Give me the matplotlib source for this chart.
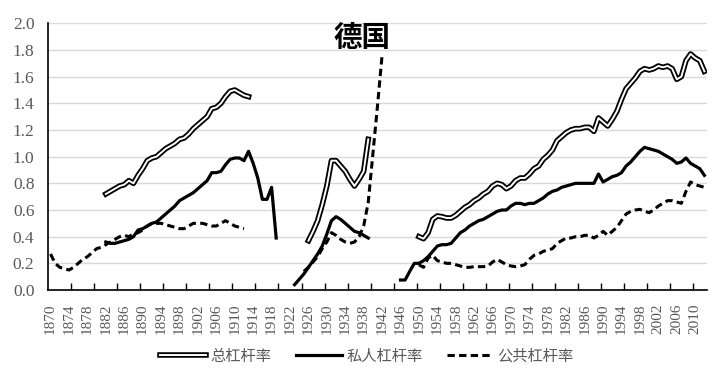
import numpy as np
import matplotlib
matplotlib.use('Agg')
import matplotlib.pyplot as plt
from matplotlib.lines import Line2D

plt.rcParams['font.family'] = ['Noto Sans CJK SC', 'DejaVu Sans']

# total leverage (总杠杆率), three segments
total_y1 = np.arange(1882, 1914)
total_1 = [0.72, 0.74, 0.76, 0.78, 0.79, 0.82, 0.80, 0.86, 0.91, 0.97,
           0.99, 1.00, 1.03, 1.06, 1.08, 1.10, 1.13, 1.14, 1.17, 1.21,
           1.24, 1.27, 1.30, 1.36, 1.37, 1.40, 1.45, 1.49, 1.50, 1.48,
           1.46, 1.45]
total_y2 = np.arange(1926, 1940)
total_2 = [0.37, 0.44, 0.52, 0.64, 0.78, 0.97, 0.97, 0.93, 0.89, 0.83,
           0.78, 0.83, 0.89, 1.13]
total_y3 = np.arange(1950, 2013)
total_3 = [0.40, 0.385, 0.43, 0.53, 0.555, 0.55, 0.54, 0.54, 0.56, 0.59,
           0.62, 0.64, 0.67, 0.69, 0.72, 0.74, 0.78, 0.80, 0.79, 0.76,
           0.78, 0.82, 0.84, 0.84, 0.87, 0.91, 0.93, 0.98, 1.01, 1.05,
           1.12, 1.15, 1.18, 1.20, 1.21, 1.21, 1.22, 1.22, 1.19, 1.29,
           1.26, 1.23, 1.28, 1.34, 1.43, 1.51, 1.55, 1.59, 1.64, 1.66,
           1.65, 1.66, 1.68, 1.67, 1.68, 1.66, 1.58, 1.60, 1.72, 1.77,
           1.74, 1.72, 1.64]

# private leverage (私人杠杆率)
priv_y1 = np.arange(1882, 1920)
priv_1 = [0.36, 0.35, 0.35, 0.36, 0.37, 0.38, 0.40, 0.45, 0.46, 0.48,
          0.50, 0.51, 0.54, 0.57, 0.60, 0.63, 0.67, 0.69, 0.71, 0.73,
          0.76, 0.79, 0.82, 0.88, 0.88, 0.89, 0.94, 0.98, 0.99, 0.99,
          0.97, 1.04, 0.95, 0.84, 0.68, 0.68, 0.77, 0.39]
priv_y2 = np.arange(1923, 1940)
priv_2 = [0.04, 0.08, 0.12, 0.17, 0.22, 0.27, 0.33, 0.42, 0.52, 0.55,
          0.53, 0.50, 0.47, 0.44, 0.43, 0.41, 0.39]
priv_y3 = np.arange(1946, 2013)
priv_3 = [0.075, 0.075, 0.14, 0.20, 0.20, 0.22, 0.25, 0.29, 0.33, 0.34,
          0.34, 0.35, 0.39, 0.43, 0.45, 0.48, 0.50, 0.52, 0.53, 0.55,
          0.57, 0.59, 0.60, 0.60, 0.63, 0.65, 0.65, 0.64, 0.65, 0.65,
          0.67, 0.69, 0.72, 0.74, 0.75, 0.77, 0.78, 0.79, 0.80, 0.80,
          0.80, 0.80, 0.80, 0.87, 0.81, 0.83, 0.85, 0.86, 0.88, 0.93,
          0.96, 1.00, 1.04, 1.07, 1.06, 1.05, 1.04, 1.02, 1.00, 0.98,
          0.95, 0.96, 0.99, 0.95, 0.93, 0.91, 0.86]

# public leverage (公共杠杆率)
pub_y1 = np.arange(1870, 1913)
pub_1 = [0.27, 0.20, 0.17, 0.16, 0.15, 0.17, 0.20, 0.23, 0.25, 0.28,
         0.31, 0.32, 0.34, 0.36, 0.38, 0.40, 0.41, 0.40, 0.42, 0.43,
         0.45, 0.48, 0.50, 0.50, 0.50, 0.49, 0.48, 0.47, 0.46, 0.46,
         0.48, 0.50, 0.50, 0.50, 0.49, 0.48, 0.48, 0.50, 0.52, 0.50,
         0.48, 0.47, 0.46]
pub_y2 = np.arange(1925, 1943)
pub_2 = [0.14, 0.17, 0.21, 0.25, 0.31, 0.36, 0.43, 0.41, 0.38, 0.36,
         0.35, 0.36, 0.40, 0.48, 0.66, 1.02, 1.38, 1.76]
pub_y3 = np.arange(1950, 2013)
pub_3 = [0.19, 0.17, 0.24, 0.26, 0.22, 0.21, 0.20, 0.20, 0.19, 0.18,
         0.17, 0.17, 0.175, 0.175, 0.175, 0.18, 0.21, 0.23, 0.21, 0.19,
         0.18, 0.175, 0.18, 0.19, 0.23, 0.26, 0.27, 0.29, 0.30, 0.31,
         0.35, 0.37, 0.39, 0.39, 0.40, 0.40, 0.41, 0.41, 0.39, 0.41,
         0.44, 0.41, 0.44, 0.47, 0.52, 0.57, 0.59, 0.60, 0.605, 0.59,
         0.58, 0.60, 0.63, 0.65, 0.67, 0.67, 0.66, 0.65, 0.74, 0.81,
         0.79, 0.78, 0.77]

labels = ['总杠杆率', '私人杠杆率', '公共杠杆率']
grey = '#595959'
dash = (0, (2.4, 1.4))

fig = plt.figure(figsize=(7.26, 3.76), dpi=100)
ax = fig.add_axes([0.0665, 0.2287, 0.9069, 0.7093])

for yrs, vals in [(pub_y1, pub_1), (pub_y2, pub_2), (pub_y3, pub_3)]:
    ax.plot(yrs, vals, color='black', lw=2.2, linestyle=dash, zorder=3)
for yrs, vals in [(priv_y1, priv_1), (priv_y2, priv_2), (priv_y3, priv_3)]:
    ax.plot(yrs, vals, color='black', lw=2.3, solid_joinstyle='round', zorder=4)
for yrs, vals in [(total_y1, total_1), (total_y2, total_2), (total_y3, total_3)]:
    ax.plot(yrs, vals, color='black', lw=4.0, solid_joinstyle='round', zorder=5)
    ax.plot(yrs, vals, color='white', lw=1.4, solid_joinstyle='round', zorder=6)

ax.set_xlim(1869.5, 2012.5)
ax.set_ylim(0, 2.0)
ax.set_yticks(np.arange(0, 2.01, 0.2))
ax.set_yticklabels(['%.1f' % v for v in np.arange(0, 2.01, 0.2)])
ax.yaxis.grid(True, color='#d9d9d9', lw=1)
ax.set_axisbelow(True)
ax.tick_params(axis='y', length=0, pad=10, labelsize=12.5, labelcolor=grey,
               labelfontfamily='Liberation Serif')

ax.set_xticks(np.arange(1870, 2011, 4))
ax.set_xticklabels([str(y) for y in range(1870, 2011, 4)], rotation=90)
ax.set_xticks(np.arange(1874.5, 2010, 5), minor=True)
ax.tick_params(axis='x', which='major', length=0, pad=10, labelsize=11, labelcolor=grey,
               labelfontfamily='Liberation Serif')
ax.tick_params(axis='x', which='minor', direction='in', length=5, width=1, color='black')

for s in ['top', 'right']:
    ax.spines[s].set_visible(False)
ax.spines['left'].set_color('black')
ax.spines['bottom'].set_color('black')
ax.spines['left'].set_linewidth(1.2)
ax.spines['bottom'].set_linewidth(1.2)

ax.text(1937.6, 1.89, '德国', fontsize=20.5, fontweight='bold', ha='center', va='center')

h_total = (Line2D([], [], color='black', lw=4.0), Line2D([], [], color='white', lw=1.4))
h_priv = Line2D([], [], color='black', lw=2.3)
h_pub = Line2D([], [], color='black', lw=2.2, linestyle=dash)
leg = fig.legend([h_total, h_priv, h_pub], labels, loc='center',
                 bbox_to_anchor=(0.505, 0.053), ncol=3, frameon=False,
                 fontsize=11, handlelength=3.0, handletextpad=0.3,
                 columnspacing=1.6)
for t in leg.get_texts():
    t.set_color(grey)

fig.savefig('out.png', dpi=100)
